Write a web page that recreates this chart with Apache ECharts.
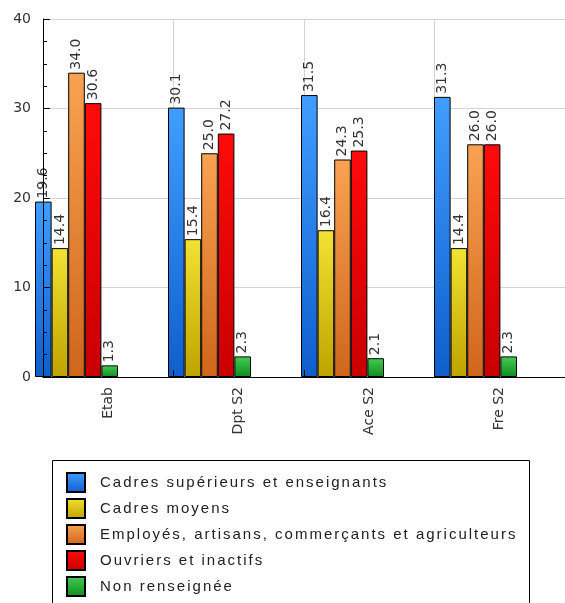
<!DOCTYPE html>
<html><head><meta charset="utf-8">
<script src="https://cdn.jsdelivr.net/npm/echarts@6/dist/echarts.min.js"></script>
<style>html,body{margin:0;padding:0;background:#fff}#c{width:565px;height:603px}</style>
</head><body><div id="c"></div>
<script>
const categories = ['Etab', 'Dpt S2', 'Ace S2', 'Fre S2'];
const seriesNames = ['Cadres supérieurs et enseignants', 'Cadres moyens', 'Employés, artisans, commerçants et agriculteurs', 'Ouvriers et inactifs', 'Non renseignée'];
const cadresSup = [19.6, 30.1, 31.5, 31.3];
const cadresMoyens = [14.4, 15.4, 16.4, 14.4];
const employes = [34.0, 25.0, 24.3, 26.0];
const ouvriers = [30.6, 27.2, 25.3, 26.0];
const nonRens = [1.3, 2.3, 2.1, 2.3];
const yTicks = [0, 10, 20, 30, 40];
const seriesData = [cadresSup, cadresMoyens, employes, ouvriers, nonRens];
const gradients = [['#409eff', '#0f5ecc'], ['#f2e232', '#bfa300'], ['#f9a252', '#cf661c'], ['#ff0a0a', '#c80000'], ['#44cc52', '#0f8c20']];
const FONT = 'DejaVu Sans';
const LEGEND_FONT = 'Liberation Sans';

// wide tracking for the legend text (as in the reference rendering)
(function () {
  const P = CanvasRenderingContext2D.prototype;
  const setLS = (ctx) => {
    if ('letterSpacing' in ctx) ctx.letterSpacing = (ctx.font && ctx.font.indexOf(LEGEND_FONT) >= 0) ? '2px' : '0px';
  };
  const ft = P.fillText, mt = P.measureText, st = P.strokeText;
  P.fillText = function () { setLS(this); return ft.apply(this, arguments); };
  P.strokeText = function () { setLS(this); return st.apply(this, arguments); };
  P.measureText = function () { setLS(this); return mt.apply(this, arguments); };
})();

const chart = echarts.init(document.getElementById('c'));
const grad = (c) => new echarts.graphic.LinearGradient(0, 0, 0, 1, [{offset: 0, color: c[0]}, {offset: 1, color: c[1]}]);

const gridTop = 19, gridBottom = 226;
chart.setOption({
  animation: false,
  backgroundColor: '#fff',
  grid: [
    {left: 10, width: 532, top: gridTop, bottom: gridBottom},
    {left: 43, width: 532, top: gridTop, bottom: gridBottom},
    {left: 43, width: 532, top: gridTop, bottom: gridBottom}
  ],
  xAxis: [
    {type: 'category', gridIndex: 0, data: categories, show: false},
    {type: 'category', gridIndex: 1, data: categories, z: 0,
      axisLine: {show: false}, axisTick: {show: false}, axisLabel: {show: false},
      splitLine: {show: true, lineStyle: {color: '#d4d4d4', width: 1}}},
    {type: 'category', gridIndex: 2, data: categories, z: 6,
      axisLine: {show: true, lineStyle: {color: '#000', width: 1}},
      axisTick: {show: true, inside: true, length: 7, lineStyle: {color: '#000'}},
      axisLabel: {show: true, rotate: 90, margin: 10, fontFamily: FONT, fontSize: 14, color: '#333'},
      splitLine: {show: false}}
  ],
  yAxis: [
    {type: 'value', gridIndex: 0, min: yTicks[0], max: yTicks[yTicks.length - 1], interval: 10, show: false},
    {type: 'value', gridIndex: 1, min: yTicks[0], max: yTicks[yTicks.length - 1], interval: 10, z: 0,
      axisLine: {show: false}, axisTick: {show: false}, axisLabel: {show: false},
      splitLine: {show: true, lineStyle: {color: '#d4d4d4', width: 1}}},
    {type: 'value', gridIndex: 2, min: yTicks[0], max: yTicks[yTicks.length - 1], interval: 10, z: 6,
      axisLine: {show: true, lineStyle: {color: '#000', width: 1}},
      axisTick: {show: true, inside: true, length: 7, lineStyle: {color: '#000'}},
      minorTick: {show: true, splitNumber: 4, length: 4, lineStyle: {color: '#000'}},
      axisLabel: {show: true, margin: 12, fontFamily: FONT, fontSize: 14, color: '#333'},
      splitLine: {show: false}}
  ],
  legend: {
    orient: 'vertical', left: 66, top: 472, height: 160, padding: 0,
    itemWidth: 18, itemHeight: 19, itemGap: 5,
    icon: 'rect',
    textStyle: {fontFamily: LEGEND_FONT, fontSize: 15, color: '#222', padding: [0, 0, 0, 10]},
    data: seriesNames
  },
  graphic: [{
    type: 'rect', left: 52, top: 460, z: -1,
    shape: {width: 477, height: 200},
    style: {fill: '#fff', stroke: '#000', lineWidth: 1}
  }],
  series: seriesData.map((d, i) => ({
    type: 'bar', name: seriesNames[i], xAxisIndex: 0, yAxisIndex: 0,
    data: d, barWidth: 16.6, barGap: '0%',
    itemStyle: {color: grad(gradients[i]), borderColor: '#000', borderWidth: 1},
    label: {show: true, position: 'top', rotate: 90, align: 'left', verticalAlign: 'middle', distance: 3,
      fontFamily: FONT, fontSize: 14, color: '#333', formatter: (p) => p.value.toFixed(1)}
  }))
});
</script></body></html>
